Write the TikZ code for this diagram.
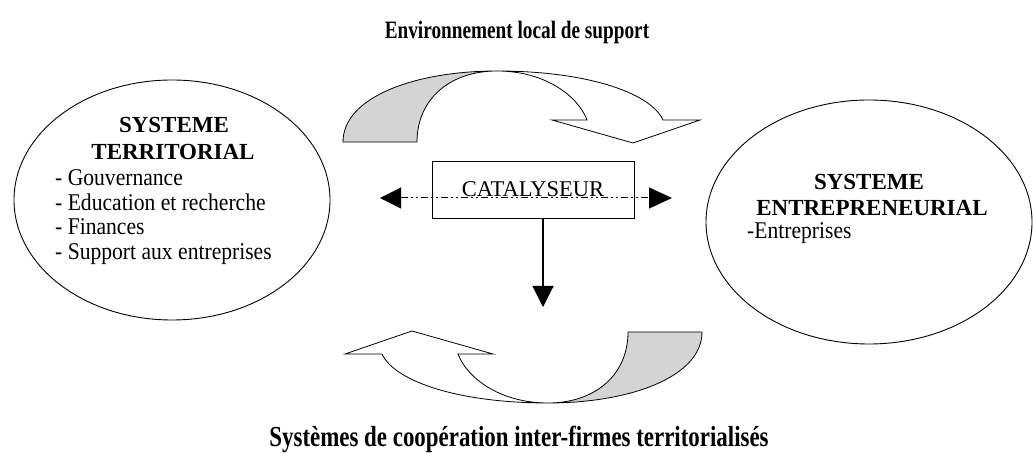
\documentclass[tikz,border=0pt]{standalone}
\usepackage{fontspec}
\setmainfont{Liberation Serif}
\usetikzlibrary{shapes.geometric,arrows.meta}
\definecolor{bandgray}{RGB}{212,212,212}
\tikzset{
  sysell/.style={draw, ellipse, line width=0.9pt, inner sep=0pt},
  hdr/.style={font=\fontsize{23}{25}\selectfont\bfseries, inner sep=0pt, anchor=base},
  itm/.style={font=\fontsize{24}{26}\selectfont, inner sep=0pt, anchor=base west, xscale=0.9},
  ttl/.style={inner sep=0pt, anchor=base},
  band/.style={draw, line width=0.8pt, line join=miter},
  catbox/.style={draw, line width=0.9pt, minimum width=202pt, minimum height=57pt, inner sep=0pt, font=\fontsize{22.5}{25}\selectfont},
  bigtip/.style={-{Triangle[length=21pt,width=21pt]}},
  dashline/.style={line width=1pt, dash pattern=on 7pt off 3pt on 2pt off 3pt on 2pt off 3pt}
}
\newcommand\bandshape{%
  \path[band, fill=bandgray] (343,312) -- (417,312)
    .. controls (417,355) and (450,383) .. (497,383)
    .. controls (415,383) and (343,357) .. (343,312) -- cycle;
  \path[band, fill=white] (497,383)
    .. controls (585,383) and (650,362) .. (663,334)
    -- (700,334) -- (633,311) -- (552,334) -- (587,334)
    .. controls (578,358) and (545,383) .. (497,383) -- cycle;
}
\begin{document}
\begin{tikzpicture}[x=1pt,y=1pt]
\useasboundingbox (0,0) rectangle (1033,454);
% titles
\node[ttl, font=\fontsize{25}{27}\selectfont\bfseries, xscale=0.77] (toptitle) at (517,415) {Environnement local de support};
\node[ttl, font=\fontsize{29}{31}\selectfont\bfseries, xscale=0.79] (bottitle) at (519,7) {Systèmes de coopération inter-firmes territorialisés};
% ellipses
\node[sysell, minimum width=316pt, minimum height=240pt] (terr) at (172,254) {};
\node[sysell, minimum width=326pt, minimum height=244pt] (entr) at (869,232) {};
% left texts
\node[hdr] (t1) at (174,321) {SYSTEME};
\node[hdr] (t2) at (173,294) {TERRITORIAL};
\node[itm] (b1) at (55,268) {- Gouvernance};
\node[itm] (b2) at (55,243) {- Education et recherche};
\node[itm] (b3) at (55,219) {- Finances};
\node[itm] (b4) at (55,194) {- Support aux entreprises};
% right texts
\node[hdr] (e1) at (869,264) {SYSTEME};
\node[hdr] (e2) at (872,238) {ENTREPRENEURIAL};
\node[itm] (e3) at (747,215) {-Entreprises};
% curved arrows
\bandshape
\begin{scope}[rotate around={180:(522.5,217)}]
\bandshape
\end{scope}
% catalyseur
\node[catbox] (cat) at (533,264.5) {CATALYSEUR};
\coordinate (lt) at (380,256);
\coordinate (rt) at (672,256);
\coordinate (vt) at (543,147);
\draw[dashline, {Triangle[length=21pt,width=21pt]}-{Triangle[length=23pt,width=21pt]}] (lt) -- (rt);
\draw[line width=1.1pt, bigtip] ([xshift=10pt]cat.south) -- (vt);
\end{tikzpicture}
\end{document}
